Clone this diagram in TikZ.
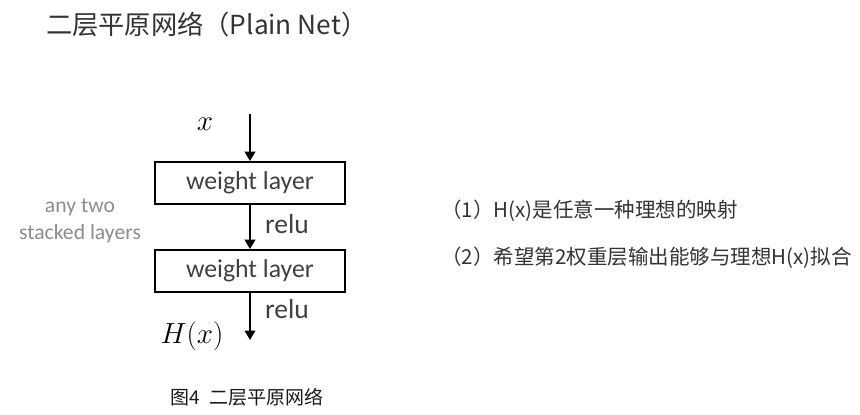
\documentclass[tikz,border=0pt]{standalone}
\usepackage{fontspec}
\setmainfont{Carlito}
\newfontfamily\cjk{Noto Sans CJK SC}
\usetikzlibrary{arrows.meta}

\begin{document}
\begin{tikzpicture}[x=0.03cm,y=-0.03cm]
\tikzset{
  layerbox/.style={draw=black,line width=1.6pt,minimum width=5.7cm,minimum height=1.26cm,inner sep=0pt,font=\fontsize{22}{24}\selectfont,text=black!75},
  flow/.style={line width=1.6pt,-{Triangle[length=8pt,width=9pt]}},
  lbl/.style={inner sep=0pt,text=black!75,font=\fontsize{23.5}{26}\selectfont},
  note/.style={inner sep=0pt,anchor=west,text=black!80,font=\cjk\fontsize{17.5}{20}\selectfont}
}
\useasboundingbox (0,0) rectangle (860,414);
% title
\node[inner sep=0pt,anchor=west,text=black!80,font=\cjk\fontsize{22.4}{26}\selectfont] (title) at (46,25) {二层平原网络（Plain Net）};
% the two stacked layers
\coordinate (in) at (250,114);
\node[layerbox] (w1) at (250,183) {weight layer};
\node[layerbox] (w2) at (250,271) {weight layer};
\coordinate (out) at (250,340);
\draw[flow] (in) -- (w1.north);
\draw[flow] (w1.south) -- (w2.north);
\draw[flow] (w2.south) -- (out);
\node[inner sep=0pt,font=\fontsize{25}{28}\selectfont] (x) at (205,124) {$x$};
\node[inner sep=0pt,font=\fontsize{26}{28}\selectfont] (hx) at (192,336) {$H(x)$};
\node[lbl] (relu1) at (287,224) {relu};
\node[lbl] (relu2) at (287,309) {relu};
\node[inner sep=0pt,align=center,text=black!45,font=\fontsize{18.5}{22.5}\selectfont] (any) at (80,221) {any two\\stacked layers};
% notes
\node[note] (n1) at (441,211) {（1）H(x)是任意一种理想的映射};
\node[note] (n2) at (441,258) {（2）希望第2权重层输出能够与理想H(x)拟合};
% caption
\node[inner sep=0pt,text=black!90,font=\cjk\fontsize{16.2}{18}\selectfont] (cap) at (247,397) {图4\enspace 二层平原网络};
\end{tikzpicture}
\end{document}
